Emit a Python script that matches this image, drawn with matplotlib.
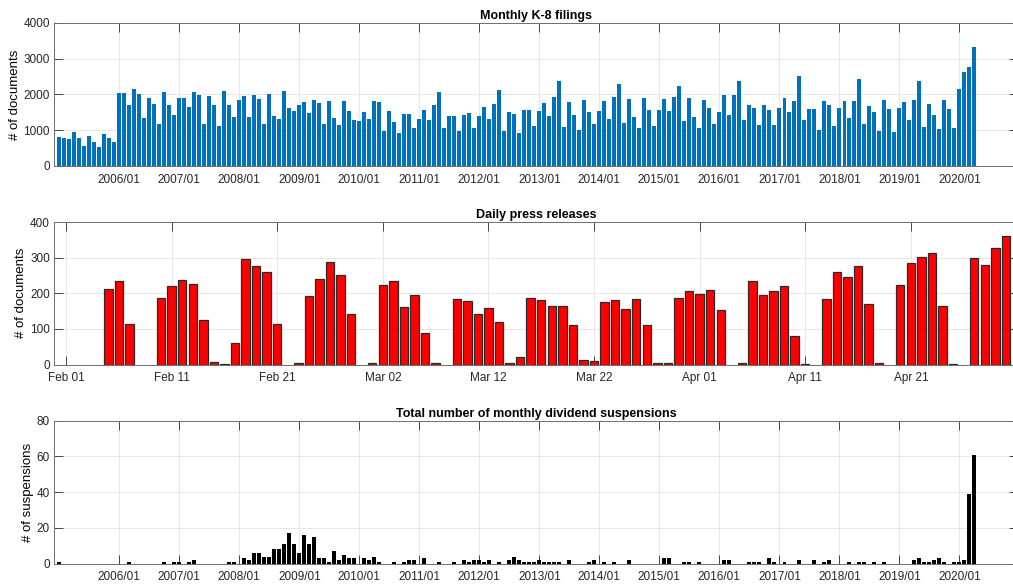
import numpy as np
import pandas as pd
import matplotlib
matplotlib.use('Agg')
import matplotlib.pyplot as plt
import matplotlib.dates as mdates

plt.rcParams['font.family'] = ['Liberation Sans', 'DejaVu Sans']

# monthly series, Jan 2005 - Apr 2020
months = pd.date_range('2005-01-01', periods=184, freq='MS')
k8_filings = [
    797, 778, 750, 938, 788, 572, 844, 666, 544, 891, 788, 675,            # 2005
    2054, 2045, 1707, 2158, 2017, 1341, 1914, 1735, 1182, 2083, 1717, 1417,  # 2006
    1914, 1904, 1642, 2083, 1989, 1182, 1951, 1717, 1107, 2101, 1698, 1379,  # 2007
    1839, 1961, 1370, 1989, 1867, 1163, 2026, 1407, 1313, 2111, 1623, 1538,  # 2008
    1698, 1792, 1473, 1839, 1773, 1182, 1829, 1351, 1135, 1811, 1538, 1295,  # 2009
    1257, 1520, 1323, 1811, 1782, 985, 1529, 1229, 919, 1463, 1463, 1060,    # 2010
    1323, 1567, 1295, 1698, 2064, 1069, 1398, 1407, 966, 1435, 1492, 1051,   # 2011
    1388, 1651, 1313, 1735, 2139, 976, 1501, 1463, 910, 1567, 1576, 1126,    # 2012
    1538, 1773, 1388, 1942, 2373, 1079, 1782, 1417, 1004, 1839, 1510, 1173,  # 2013
    1529, 1811, 1304, 1932, 2298, 1191, 1886, 1360, 1051, 1914, 1557, 1126,  # 2014
    1557, 1867, 1548, 1923, 2242, 1266, 1895, 1379, 1069, 1857, 1614, 1182,  # 2015
    1501, 1998, 1435, 1989, 2373, 1276, 1717, 1614, 1154, 1717, 1576, 1144,  # 2016
    1614, 1914, 1501, 1811, 2505, 1276, 1604, 1604, 1013, 1820, 1717, 1107,  # 2017
    1614, 1811, 1351, 1829, 2439, 1173, 1670, 1510, 985, 1839, 1585, 947,    # 2018
    1623, 1782, 1285, 1857, 2373, 1098, 1745, 1435, 1041, 1857, 1595, 1051,  # 2019
    2148, 2636, 2767, 3340,                                                  # 2020
]
suspensions = [
    1, 0, 0, 0, 0, 0, 0, 0, 0, 0, 0, 0,
    0, 0, 1, 0, 0, 0, 0, 0, 0, 1, 0, 1,
    1, 0, 1, 2, 0, 0, 0, 0, 0, 0, 1, 1,
    0, 3, 2, 6, 6, 4, 4, 8, 8, 11, 17, 11,
    6, 16, 11, 15, 3, 3, 1, 7, 2, 5, 3, 3,
    0, 3, 2, 4, 1, 0, 0, 1, 0, 1, 2, 2,
    0, 3, 0, 0, 1, 0, 0, 1, 0, 2, 1, 2,
    2, 1, 2, 0, 1, 0, 2, 4, 2, 1, 1, 1,
    2, 1, 1, 1, 1, 0, 2, 0, 0, 0, 1, 2,
    0, 1, 0, 1, 0, 0, 2, 0, 0, 0, 0, 0,
    0, 3, 3, 0, 0, 1, 1, 0, 1, 0, 0, 0,
    0, 2, 2, 0, 0, 0, 1, 1, 1, 0, 3, 1,
    0, 1, 0, 0, 2, 0, 0, 2, 0, 1, 2, 0,
    0, 0, 1, 0, 1, 1, 0, 1, 0, 1, 0, 0,
    0, 0, 0, 2, 3, 1, 1, 2, 3, 1, 0, 1,
    1, 2, 39, 61,
]

# daily press releases, Feb 1 - Apr 30 2020
days = pd.date_range('2020-02-01', '2020-04-30', freq='D')
press = [
    0, 0, 0, 0, 211, 234, 114, 0, 0, 188,
    221, 236, 225, 124, 7, 1, 59, 295, 277, 261,
    113, 0, 3, 191, 240, 289, 250, 143, 0, 3,
    224, 235, 161, 194, 88, 3, 0, 185, 179, 141,
    158, 118, 4, 21, 188, 181, 164, 165, 112, 12,
    11, 176, 182, 155, 184, 112, 4, 4, 186, 206,
    198, 209, 152, 0, 3, 235, 195, 205, 221, 80,
    1, 0, 184, 259, 245, 277, 169, 4, 0, 223,
    286, 301, 312, 164, 1, 0, 299, 279, 326, 362,
]

xm = mdates.date2num(months.to_pydatetime())
xd = mdates.date2num(days.to_pydatetime())
k8_filings = np.array(k8_filings)
suspensions = np.array(suspensions)
press = np.array(press)

fig = plt.figure(figsize=(10.13, 5.88), dpi=100)
L, W = 54 / 1013, 964 / 1013
ax1 = fig.add_axes([L, 0.7177, W, 0.2432])
ax2 = fig.add_axes([L, 0.3801, W, 0.2423])
ax3 = fig.add_axes([L, 0.0413, W, 0.2432])


def style(ax):
    ax.set_axisbelow(True)
    ax.grid(True, color='#e3e3e3', lw=0.6)
    for s in ax.spines.values():
        s.set_color('#6e6e6e')
        s.set_linewidth(0.7)
    ax.tick_params(direction='in', top=True, right=True, length=6.5,
                   width=0.7, color='#444444', labelsize=8.5,
                   labelcolor='#262626')
    ax.tick_params(axis='x', pad=5.5)
    ax.tick_params(axis='y', pad=3)


# monthly 8-K filings
ax1.bar(xm, k8_filings, width=24, color='#0072BD')
ax1.set_ylim(0, 4000)
ax1.set_yticks([0, 1000, 2000, 3000, 4000])
ax1.set_ylabel('# of documents', fontsize=9.5, labelpad=2)
ax1.set_title('Monthly K-8 filings', fontsize=9, fontweight='bold', pad=3)

# daily press releases
m = press > 0
ax2.bar(xd[m], press[m], width=0.8, color='#FF0000', edgecolor='#2a2a2a', lw=0.9)
ax2.set_ylim(0, 400)
ax2.set_yticks([0, 100, 200, 300, 400])
ax2.set_ylabel('# of documents', fontsize=9.5, labelpad=2)
ax2.set_title('Daily press releases', fontsize=9, fontweight='bold', pad=3)
ax2.set_xlim(xd[0] - 1.14, xd[0] + 90.15)
ax2.set_xticks(xd[::10])
ax2.xaxis.set_major_formatter(mdates.DateFormatter('%b %d'))

# dividend suspensions
m = suspensions > 0
ax3.bar(xm[m], suspensions[m], width=24, color='black')
ax3.set_ylim(0, 80)
ax3.set_yticks([0, 20, 40, 60, 80])
ax3.set_ylabel('# of suspensions', fontsize=9.5, labelpad=2)
ax3.set_title('Total number of monthly dividend suspensions', fontsize=9,
              fontweight='bold', pad=3)

year_ticks = mdates.date2num(pd.date_range('2006-01-01', '2020-01-01', freq='YS').to_pydatetime())
for ax in (ax1, ax3):
    ax.set_xlim(xm[0] - 32, xm[-1] + 266)
    ax.set_xticks(year_ticks)
    ax.xaxis.set_major_formatter(mdates.DateFormatter('%Y/%m'))

for ax in (ax1, ax2, ax3):
    style(ax)

fig.savefig('out.png', dpi=100, facecolor='white')
